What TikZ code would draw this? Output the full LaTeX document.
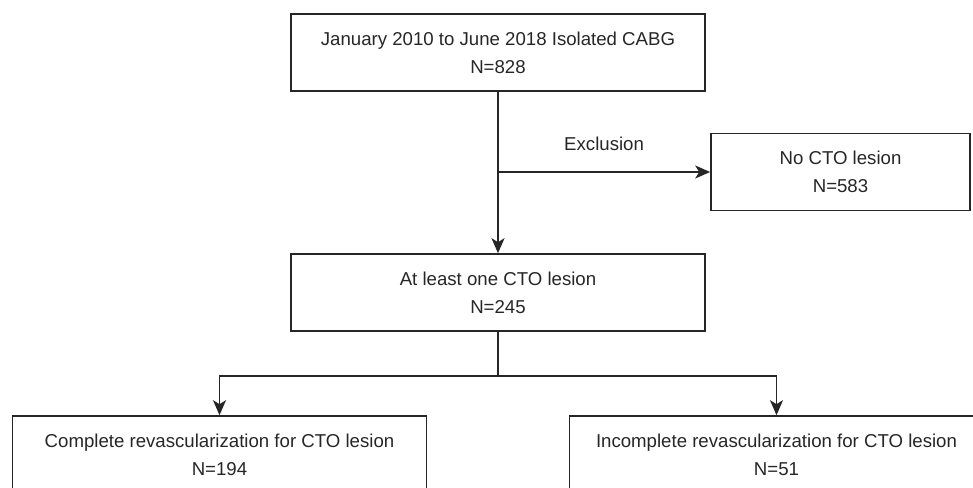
\documentclass[tikz,border=0pt]{standalone}
\usepackage{fontspec}
\setmainfont{Liberation Sans}
\usetikzlibrary{arrows.meta}

\begin{document}
\begin{tikzpicture}[line width=0.9pt, color=black!85, >={Stealth[length=3mm, width=2.6mm, inset=0.8mm]},
    font=\fontsize{10.6pt}{15.9pt}\selectfont,
    box/.style={draw, minimum width=8.28cm, minimum height=1.54cm, align=center}]
            \useasboundingbox (-9.96,1.05) rectangle (9.5,-8.71);
            \clip (-9.96,1.05) rectangle (9.5,-8.71);
            \node[box] (cabg) {January 2010 to June 2018 Isolated CABG\\N=828};
            \coordinate[below of=cabg, node distance=2.39cm] (split);
            \node[box, right of=split, minimum width=5.18cm, node distance=6.85cm] (nocto) {No CTO lesion\\N=583};
            \node[box, below of=cabg, node distance=4.8cm] (cto) {At least one CTO lesion\\N=245};
            \coordinate[below of=cto, node distance=1.67cm] (fork);
            \coordinate[left of=fork, node distance=5.57cm] (forkL);
            \coordinate[right of=fork, node distance=5.57cm] (forkR);
            \node[box, below of=forkL, node distance=1.57cm] (complete) {Complete revascularization for CTO lesion\\N=194};
            \node[box, below of=forkR, node distance=1.57cm] (incomplete) {Incomplete revascularization for CTO lesion\\N=51};
            \draw[->] (cabg) -- (cto);
            \draw[->] (split) -- node[above=0.3cm] {Exclusion} (nocto);
            \draw (cto) -- (fork);
            \draw[->] (fork) -| (complete);
            \draw[->] (fork) -| (incomplete);
\end{tikzpicture}
\end{document}
